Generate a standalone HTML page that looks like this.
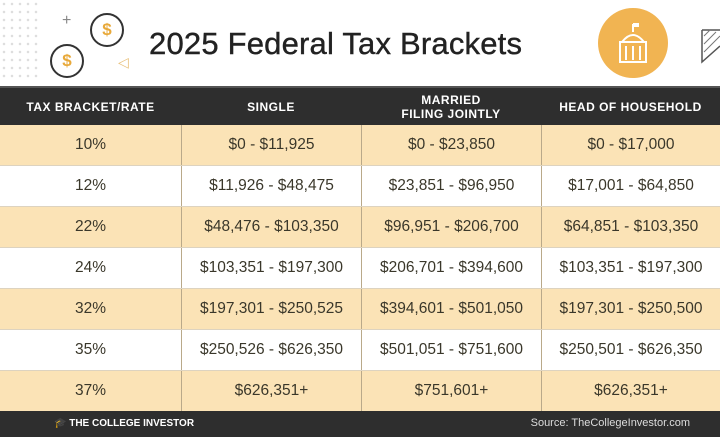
<!DOCTYPE html>
<html><head><meta charset="utf-8"><style>
body{margin:0;width:720px;height:437px;overflow:hidden;background:#fff;font-family:"Liberation Sans",sans-serif}
.top{position:absolute;left:0;top:0;width:720px;height:86px;background:#fff}
h1{position:absolute;left:149px;top:26px;margin:0;font-size:31px;font-weight:normal;color:#222;letter-spacing:0.2px;-webkit-text-stroke:0.4px #222}
.coin{position:absolute;border-radius:50%;border:2px solid #333;background:#fff;color:#e8a93a;font-weight:bold;text-align:center}
.gov{position:absolute;left:598px;top:8px;width:70px;height:70px;border-radius:50%;background:#f1b452}
.hdr{position:absolute;left:0;top:86px;width:720px;height:39px;background:#2e2e2e;border-top:2px solid #555;box-sizing:border-box}
.hdr div{position:absolute;top:0;height:37px;display:flex;align-items:center;justify-content:center;text-align:center;color:#fff;font-size:12px;font-weight:bold;letter-spacing:0.5px;line-height:14px}
.row{position:absolute;left:0;width:720px;height:41px;box-sizing:border-box;border-bottom:1px solid #ddd3c0}
.row div{position:absolute;top:0;height:40px;display:flex;align-items:center;justify-content:center;font-size:15.5px;color:#3a372a;box-sizing:border-box}
.row div+div{border-left:1px solid #b9a98a}
.o{background:#fbe3b6}
.foot{position:absolute;left:0;top:411px;width:720px;height:26px;background:#2e2e2e;color:#ddd;font-size:11px}
</style></head><body>
<div class="top">
<div style="position:absolute;left:0;top:0;width:40px;height:80px;background-image:radial-gradient(#ddd 1px,transparent 1.5px);background-size:8px 8px"></div>
<div style="position:absolute;left:62px;top:12px;font-size:16px;color:#888">+</div>
<div class="coin" style="left:90px;top:13px;width:30px;height:30px;line-height:30px;font-size:17px">$</div>
<div class="coin" style="left:50px;top:44px;width:30px;height:30px;line-height:30px;font-size:17px">$</div>
<div style="position:absolute;left:118px;top:54px;color:#e8c07a;font-size:14px">◁</div>
<h1>2025 Federal Tax Brackets</h1>
<div class="gov"><svg width="70" height="70"><rect x="22" y="34" width="26" height="20" fill="none" stroke="#fff" stroke-width="2"/><path d="M24 34 Q35 20 46 34" fill="none" stroke="#fff" stroke-width="2"/><line x1="35" y1="16" x2="35" y2="24" stroke="#fff" stroke-width="2"/><rect x="35" y="15" width="6" height="4" fill="#fff"/><line x1="28" y1="38" x2="28" y2="52" stroke="#fff" stroke-width="2"/><line x1="35" y1="38" x2="35" y2="52" stroke="#fff" stroke-width="2"/><line x1="42" y1="38" x2="42" y2="52" stroke="#fff" stroke-width="2"/></svg></div>
<svg style="position:absolute;left:700px;top:26px" width="20" height="40"><path d="M2 4 L20 4 M2 4 L2 36 L20 20" fill="none" stroke="#555" stroke-width="1.5"/><path d="M4 10 L10 4 M4 18 L16 6 M4 26 L20 10" stroke="#777"/></svg>
</div>
<div class="hdr">
<div style="left:0;width:181px">TAX BRACKET/RATE</div>
<div style="left:181px;width:180px">SINGLE</div>
<div style="left:361px;width:180px">MARRIED<br>FILING JOINTLY</div>
<div style="left:541px;width:179px">HEAD OF HOUSEHOLD</div>
</div>
<div class="row o" style="top:125px"><div style="left:0;width:181px">10%</div><div style="left:181px;width:180px">$0 - $11,925</div><div style="left:361px;width:180px">$0 - $23,850</div><div style="left:541px;width:179px">$0 - $17,000</div></div>
<div class="row" style="top:166px"><div style="left:0;width:181px">12%</div><div style="left:181px;width:180px">$11,926 - $48,475</div><div style="left:361px;width:180px">$23,851 - $96,950</div><div style="left:541px;width:179px">$17,001 - $64,850</div></div>
<div class="row o" style="top:207px"><div style="left:0;width:181px">22%</div><div style="left:181px;width:180px">$48,476 - $103,350</div><div style="left:361px;width:180px">$96,951 - $206,700</div><div style="left:541px;width:179px">$64,851 - $103,350</div></div>
<div class="row" style="top:248px"><div style="left:0;width:181px">24%</div><div style="left:181px;width:180px">$103,351 - $197,300</div><div style="left:361px;width:180px">$206,701 - $394,600</div><div style="left:541px;width:179px">$103,351 - $197,300</div></div>
<div class="row o" style="top:289px"><div style="left:0;width:181px">32%</div><div style="left:181px;width:180px">$197,301 - $250,525</div><div style="left:361px;width:180px">$394,601 - $501,050</div><div style="left:541px;width:179px">$197,301 - $250,500</div></div>
<div class="row" style="top:330px"><div style="left:0;width:181px">35%</div><div style="left:181px;width:180px">$250,526 - $626,350</div><div style="left:361px;width:180px">$501,051 - $751,600</div><div style="left:541px;width:179px">$250,501 - $626,350</div></div>
<div class="row o" style="top:371px;height:40px;border-bottom:none"><div style="left:0;width:181px">37%</div><div style="left:181px;width:180px">$626,351+</div><div style="left:361px;width:180px">$751,601+</div><div style="left:541px;width:179px">$626,351+</div></div>
<div class="foot">
<div style="position:absolute;left:54px;top:7px;font-weight:bold;font-size:10px;color:#fff">🎓 THE COLLEGE INVESTOR</div>
<div style="position:absolute;right:30px;top:6px">Source: TheCollegeInvestor.com</div>
</div>
</body></html>
